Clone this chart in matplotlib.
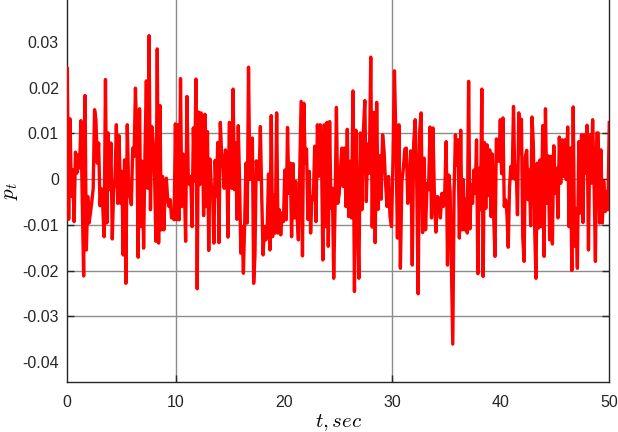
import numpy as np
import matplotlib
matplotlib.use("Agg")
from matplotlib import pyplot as plt

# p_t, piece by piece (values in units of 1)
p_a = [0.0242, -0.0088, 0.0132, -0.0038, 0.0020, -0.0093, 0.0059, 0.0013, 0.0053, 0.0024,
       0.0128, -0.0053, -0.0212, 0.0183, -0.0155, -0.0038, -0.0096, -0.0074, -0.0049, -0.0020,
       0.0152, 0.0130, 0.0035, 0.0079, -0.0058, -0.0021, -0.0060, -0.0126, 0.0218, -0.0096,
       0.0101, -0.0023, 0.0079, -0.0131, -0.0023, -0.0001, 0.0119, -0.0053, 0.0095, -0.0053,
       0.0017, -0.0166, 0.0042, -0.0228, 0.0119, -0.0016, -0.0038, -0.0056, 0.0068, 0.0050,
       0.0199, 0.0086, -0.0171, 0.0154, -0.0104, 0.0039, -0.0151, 0.0057, 0.0215, -0.0020,
       0.0314, -0.0067, 0.0115, 0.0079, 0.0013, -0.0136, 0.0285, -0.0140]
p_b = [0.0161, -0.0111, 0.0006, -0.0111, -0.0027, 0.0002, -0.0045, -0.0060, -0.0045, -0.0085,
       -0.0082, -0.0089, 0.0121, -0.0089, 0.0119, -0.0089, 0.0220, -0.0060, 0.0055, -0.0016,
       -0.0136, 0.0181, 0.0013, -0.0012, 0.0006, -0.0104, 0.0112, -0.0005, 0.0219, -0.0240,
       0.0147, -0.0012, 0.0145, 0.0108, -0.0080, 0.0142, -0.0060, 0.0104, -0.0156, 0.0044,
       -0.0016, -0.0020, -0.0140, 0.0041, -0.0038, 0.0080, -0.0139, 0.0124, 0.0057, 0.0042,
       -0.0020, 0.0064, 0.0050, -0.0127, 0.0124, 0.0123, -0.0020, 0.0197, -0.0023, 0.0079,
       -0.0088, 0.0117, -0.0001, -0.0162, -0.0104, -0.0206, -0.0096, 0.0035, -0.0096, 0.0245,
       -0.0001, 0.0009, 0.0090, -0.0228]
p_c = [-0.0169, 0.0040, 0.0009, -0.0001, 0.0115, -0.0038, -0.0166, -0.0104, -0.0133, -0.0111,
       0.0011, -0.0155, 0.0139, -0.0126, -0.0034, -0.0118, 0.0145, -0.0118, -0.0067, -0.0122,
       -0.0074, -0.0093, 0.0020, -0.0089, 0.0113, -0.0031, 0.0035, -0.0126, 0.0034, -0.0085,
       -0.0005, -0.0082, -0.0133, 0.0020, 0.0170, -0.0168, 0.0166, 0.0035, 0.0066, -0.0088,
       0.0017, -0.0118, -0.0038, -0.0045, 0.0072, -0.0093, 0.0119, 0.0006, 0.0119, 0.0057,
       -0.0177, 0.0119, -0.0104, 0.0124, -0.0147, 0.0126, -0.0064, -0.0020, -0.0217, -0.0060,
       0.0157, -0.0053, -0.0034, 0.0022, 0.0068, -0.0016, 0.0068, -0.0060, 0.0109, -0.0082]
p_d = [0.0039, -0.0085, 0.0193, -0.0246, 0.0107, -0.0066, -0.0217, 0.0101, -0.0067, 0.0101,
       0.0172, -0.0049, 0.0077, 0.0013, 0.0267, -0.0105, 0.0146, -0.0139, 0.0168, -0.0066,
       0.0051, -0.0044, 0.0097, 0.0061, -0.0009, -0.0060, 0.0006, -0.0082, -0.0104, 0.0039,
       0.0237, 0.0086, -0.0129, 0.0119, -0.0195, -0.0005, 0.0023, 0.0066, 0.0068, -0.0053,
       -0.0016, 0.0062, -0.0188, 0.0080, 0.0130, -0.0001, -0.0251, 0.0104, 0.0145, -0.0117,
       0.0046, -0.0111, -0.0009, -0.0023, 0.0114, -0.0085, 0.0112, -0.0045, -0.0116, -0.0038,
       -0.0042, -0.0085, -0.0031, -0.0060]
p_e = [-0.0023, 0.0082, -0.0188, 0.0009, -0.0027, -0.0188, -0.0361, -0.0027, 0.0097, 0.0031,
       0.0086, -0.0129, 0.0107, -0.0111, -0.0001, -0.0111, -0.0044, -0.0118, 0.0214, -0.0109,
       -0.0012, -0.0053, 0.0020, -0.0031, 0.0086, -0.0207, 0.0024, -0.0067, 0.0197, -0.0213,
       0.0080, -0.0064, 0.0075, -0.0036, 0.0064, -0.0082, 0.0055, -0.0082, -0.0169, 0.0088,
       0.0086, 0.0039, 0.0130, 0.0012, 0.0134, -0.0060, -0.0045, -0.0074, -0.0149, -0.0016,
       0.0028, 0.0002, 0.0159, 0.0000, 0.0028, -0.0078, 0.0145, 0.0057, 0.0131, -0.0126,
       -0.0180, 0.0050, 0.0063, -0.0045, 0.0020, -0.0102, 0.0136, 0.0079, -0.0104, -0.0217,
       0.0035, -0.0107]
p_f = [0.0042, -0.0104, 0.0117, -0.0169, 0.0154, -0.0053, 0.0051, -0.0133, 0.0050, -0.0142,
       0.0073, -0.0031, 0.0024, -0.0085, 0.0092, -0.0009, 0.0086, 0.0006, 0.0086, -0.0001,
       0.0114, -0.0104, 0.0068, -0.0200, 0.0158, -0.0147, -0.0064, -0.0195, 0.0082, -0.0074,
       0.0097, -0.0095, 0.0097, 0.0013, 0.0118, -0.0155, 0.0097, -0.0009, 0.0130, 0.0002,
       -0.0180, 0.0101, 0.0101, -0.0096, 0.0064, -0.0096, -0.0005, -0.0071, -0.0027, -0.0067,
       0.0124]
pieces = [p_a, p_b, p_c, p_d, p_e, p_f]
piece_edges = [0, 8.55, 17.31, 26.08, 34.83, 43.60, 50]

t = []
p = []
for k, vals in enumerate(pieces):
    last = k == len(pieces) - 1
    t.extend(np.linspace(piece_edges[k], piece_edges[k + 1], len(vals), endpoint=last))
    p.extend(vals)

x_grid = [10, 30]
y_grid = [0.01, 0, -0.01, -0.02, -0.03]
x_ticks = [0, 10, 20, 30, 40, 50]
y_ticks = [0.03, 0.02, 0.01, 0, -0.01, -0.02, -0.03, -0.04]
y_ticklabels = ['0.03', '0.02', '0.01', '0', '-0.01', '-0.02', '-0.03', '-0.04']

plt.rcParams['font.family'] = ['Liberation Sans', 'DejaVu Sans']
plt.rcParams['mathtext.fontset'] = 'cm'

fig = plt.figure(figsize=(6.18, 4.32), dpi=100)
ax = fig.add_axes([0.1089, 0.1157, 0.877, 0.8843])

ax.plot(t, p, color='#ff0000', lw=2.4, zorder=3)

ax.set_xlim(0, 50)
ax.set_ylim(-0.0444, 0.0392)
ax.set_xticks(x_ticks)
ax.set_yticks(y_ticks)
ax.set_yticklabels(y_ticklabels)
ax.tick_params(which='major', length=0, labelsize=11.5, colors='#262626')
ax.tick_params(axis='x', which='major', pad=9)
ax.tick_params(axis='y', which='major', pad=6)
# the grid only sits on a few of the ticks
ax.xaxis.remove_overlapping_locs = False
ax.yaxis.remove_overlapping_locs = False
ax.set_xticks(x_grid, minor=True)
ax.set_yticks(y_grid, minor=True)
ax.tick_params(which='minor', direction='in', length=5, width=1, color='#262626',
               right=True)
ax.grid(which='minor', color='#8c8c8c', lw=1.0)
ax.set_axisbelow(True)
ax.spines['top'].set_visible(False)
for s in ['left', 'right', 'bottom']:
    ax.spines[s].set_color('#262626')
    ax.spines[s].set_linewidth(1.0)

ax.set_xlabel('$t, sec$', fontsize=15, labelpad=2)
ax.set_ylabel('$p_t$', fontsize=15, labelpad=2)

fig.savefig('out.png', dpi=100)
